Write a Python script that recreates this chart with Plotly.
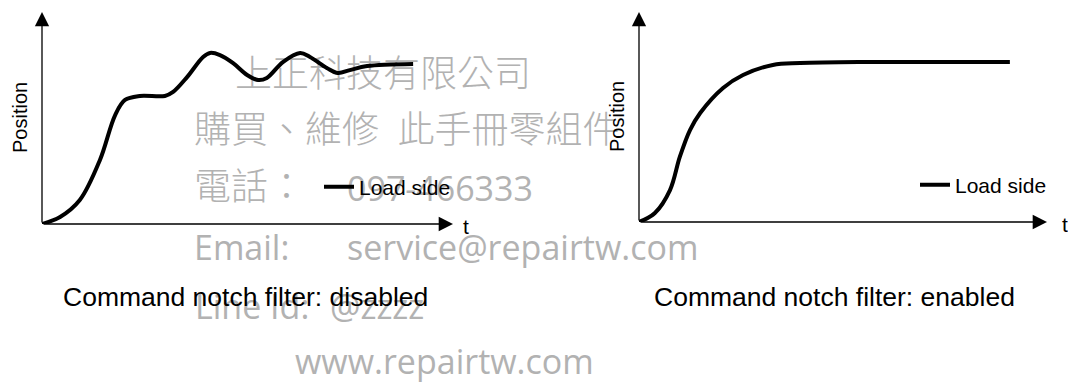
import plotly.graph_objects as go

# page is 1076x389 but the html body adds an 8px margin
W, H = 1068, 381
OFF = 8

# curve values (t and position in % of the axis length)
t_disabled = [0, 4.4, 9.2, 14.1, 17.8, 20.2, 23.8, 29.9, 31.9, 35.3, 39.2, 40.9, 43.3,
              46.5, 49.9, 52.6, 54.7, 58.6, 62.8, 65.2, 69.3, 72.0, 74.9, 79.1, 90.3]
pos_disabled = [0, 3.3, 11.3, 30.2, 51.4, 58.5, 60.4, 60.4, 62.3, 69.3, 78.8, 80.7, 79.7,
                75.9, 70.3, 67.9, 68.9, 76.4, 80.7, 78.8, 73.6, 71.2, 72.6, 74.5, 75.5]

t_enabled = [0, 3.9, 7.6, 10.0, 12.5, 15.0, 20.6, 25.5, 32.8, 39.5, 55.9, 90.9]
pos_enabled = [0, 4.3, 15.2, 31.0, 43.8, 51.9, 63.8, 70.0, 74.8, 75.7, 76.2, 76.2]

captions = ["Command notch filter: disabled", "Command notch filter: enabled"]
series_name = "Load side"
axis_x_label = "t"
axis_y_label = "Position"

# watermark text lines
wm_text = ["上正科技有限公司", "購買、維修\u2002此手冊零組件", "電話：", "097-466333",
           "Email:", "service@repairtw.com", "Line Id:", "@zzzz", "www.repairtw.com"]
# where each watermark line sits (left x, middle y, in page pixels)
wm_pos = [(235, 78), (194, 134), (194, 191), (347, 192), (194, 251), (347, 251),
          (195, 310), (330, 310), (295, 365)]


def px(x):
    return (x - OFF) / W


def py(y):
    return 1 - (y - OFF) / H


fig = go.Figure()

# watermark on the first (full page) axes so the curves are drawn over it
for txt, (wx, wy) in zip(wm_text, wm_pos):
    latin = txt.isascii()
    fig.add_trace(go.Scatter(
        x=[wx], y=[wy], mode="text", text=[txt], textposition="middle right",
        textfont=dict(family="Open Sans" if latin else "Noto Sans CJK TC",
                      size=34 if latin else 37, color="#b2b2b2",
                      weight=400 if latin else 300),
        xaxis="x", yaxis="y", showlegend=False, hoverinfo="skip"))

fig.add_trace(go.Scatter(x=t_disabled, y=pos_disabled, mode="lines", name=series_name,
                         line=dict(color="black", width=4, shape="spline", smoothing=1.0),
                         xaxis="x2", yaxis="y2", legend="legend", hoverinfo="skip"))
fig.add_trace(go.Scatter(x=t_enabled, y=pos_enabled, mode="lines", name=series_name,
                         line=dict(color="black", width=4, shape="spline", smoothing=1.0),
                         xaxis="x3", yaxis="y3", legend="legend2", hoverinfo="skip"))

panels = [
    # x axis ref, y axis ref, origin px, t label x, position label x/y, caption centre x
    ("x2", "y2", (42, 224), 461, (20, 118), 245),
    ("x3", "y3", (639, 222), 1060, (617, 117), 834),
]

for (xr, yr, (ox, oy), tx_lbl, (plx, ply), capx), cap in zip(panels, captions):
    # axis arrows
    for tx, ty in [(100, 0), (0, 100)]:
        fig.add_annotation(x=tx, y=ty, ax=0, ay=0, xref=xr, yref=yr, axref=xr, ayref=yr,
                           showarrow=True, arrowhead=2, arrowsize=2.2, arrowwidth=1.3,
                           arrowcolor="black", standoff=0, text="")
    fig.add_annotation(x=px(tx_lbl), y=py(oy + 2), xref="paper", yref="paper",
                       text=axis_x_label, showarrow=False, xanchor="left", yanchor="middle",
                       font=dict(family="Arial", size=21, color="black"))
    fig.add_annotation(x=px(plx), y=py(ply), xref="paper", yref="paper",
                       text=axis_y_label, textangle=-90, showarrow=False,
                       xanchor="center", yanchor="middle",
                       font=dict(family="Arial", size=20, color="black"))
    fig.add_annotation(x=px(capx), y=py(297), xref="paper", yref="paper",
                       text=cap, showarrow=False, xanchor="center", yanchor="middle",
                       font=dict(family="Arial", size=26.5, color="black"))

axis_off = dict(visible=False, range=[0, 100], fixedrange=True)
legend_style = dict(xanchor="left", yanchor="middle", bgcolor="rgba(0,0,0,0)",
                    font=dict(family="Arial", size=21, color="black"), itemwidth=30)
fig.update_layout(
    width=W, height=H,
    margin=dict(l=0, r=0, t=0, b=0),
    paper_bgcolor="white", plot_bgcolor="rgba(0,0,0,0)",
    xaxis=dict(visible=False, range=[OFF, OFF + W], domain=[0, 1], fixedrange=True),
    yaxis=dict(visible=False, range=[OFF + H, OFF], domain=[0, 1], fixedrange=True),
    xaxis2=dict(axis_off, domain=[px(42), px(453)], anchor="y2"),
    yaxis2=dict(axis_off, domain=[py(224), py(12)], anchor="x2"),
    xaxis3=dict(axis_off, domain=[px(639), px(1047)], anchor="y3"),
    yaxis3=dict(axis_off, domain=[py(222), py(12)], anchor="x3"),
    legend=dict(legend_style, x=px(319), y=py(187)),
    legend2=dict(legend_style, x=px(915), y=py(185)),
    showlegend=True,
)

fig.write_html("out.html")
